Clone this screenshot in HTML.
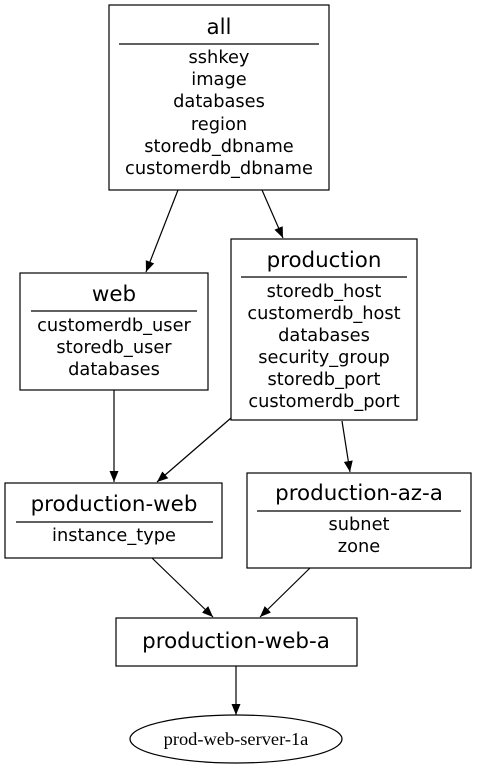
<!DOCTYPE html>
<html><head><style>html,body{margin:0;padding:0;background:#fff}</style></head><body>
<svg width="477" height="768" xmlns="http://www.w3.org/2000/svg" style="display:block">
<defs><marker id="a" markerWidth="12" markerHeight="12" refX="11" refY="6" orient="auto" markerUnits="userSpaceOnUse"><path d="M0,1.5 L11,6 L0,10.5 z" fill="#000"/></marker></defs>
<g fill="none" stroke="#000" stroke-width="1.2">
<rect x="109" y="5" width="220" height="185"/>
<line x1="119" y1="44" x2="319" y2="44"/>
<rect x="20" y="273" width="188" height="117"/>
<line x1="31" y1="311" x2="197" y2="311"/>
<rect x="231" y="239" width="186" height="181"/>
<line x1="241" y1="277" x2="407" y2="277"/>
<rect x="5" y="483" width="217" height="75"/>
<line x1="16" y1="522" x2="213" y2="522"/>
<rect x="247" y="473" width="224" height="95"/>
<line x1="257" y1="511" x2="461" y2="511"/>
<rect x="116" y="618" width="241" height="48"/>
<ellipse cx="236" cy="739" rx="106" ry="24"/>
<g marker-end="url(#a)">
<line x1="178" y1="190" x2="146" y2="272"/>
<line x1="262" y1="190" x2="283" y2="238"/>
<line x1="114" y1="390" x2="114" y2="482"/>
<line x1="231" y1="418" x2="157" y2="482"/>
<line x1="342" y1="421" x2="350" y2="472"/>
<line x1="152" y1="558" x2="213" y2="617"/>
<line x1="310" y1="568" x2="260" y2="617"/>
<line x1="236" y1="666" x2="236" y2="715"/>
</g></g>
<g font-family="DejaVu Sans, Liberation Sans, sans-serif" text-anchor="middle" fill="#000">
<g font-size="21.4"><text x="219" y="34">all</text><text x="114" y="301">web</text><text x="324" y="267">production</text><text x="114" y="511">production-web</text><text x="359" y="500">production-az-a</text><text x="236" y="648">production-web-a</text></g>
<g font-size="17.8">
<text x="219" y="63">sshkey</text><text x="219" y="85">image</text><text x="219" y="107">databases</text><text x="219" y="130">region</text><text x="219" y="152">storedb_dbname</text><text x="219" y="174">customerdb_dbname</text>
<text x="114" y="331">customerdb_user</text><text x="114" y="353">storedb_user</text><text x="114" y="375">databases</text>
<text x="324" y="297">storedb_host</text><text x="324" y="319">customerdb_host</text><text x="324" y="341">databases</text><text x="324" y="363">security_group</text><text x="324" y="385">storedb_port</text><text x="324" y="407">customerdb_port</text>
<text x="114" y="541">instance_type</text>
<text x="359" y="530">subnet</text><text x="359" y="552">zone</text>
</g>
<text x="236" y="745" font-family="Liberation Serif, serif" font-size="18.4">prod-web-server-1a</text>
</g>
</svg>
</body></html>
